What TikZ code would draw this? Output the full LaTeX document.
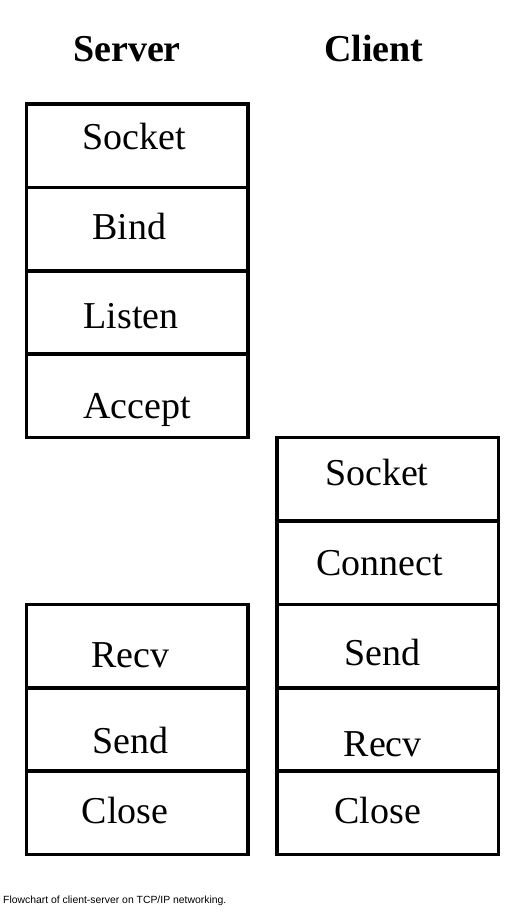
\documentclass[tikz,border=0pt]{standalone}
\usepackage{fontspec}
\setmainfont{Liberation Serif}
\newfontfamily\capfont{Liberation Sans}
\usetikzlibrary{positioning}

\tikzset{
  box/.style = {draw, line width=3.5pt, minimum width=221.5pt, minimum height=83.4pt,
                outer sep=0pt, inner sep=0pt},
  txt/.style = {font=\fontsize{38}{40}\selectfont, text height=25pt, text depth=0pt, inner sep=0pt},
  head/.style = {font=\fontsize{38}{40}\selectfont\bfseries, anchor=base, inner sep=0pt}
}

\begin{document}
\begin{tikzpicture}[x=1pt,y=-1pt]
\fill[white] (0,0) rectangle (530,914);
\useasboundingbox (0,0) rectangle (530,914);

% column heads
\node [head] (server) at (127,61.5) {Server};
\node [head] (client) at (374,61.5) {Client};

% server, first part
\node [box, label={[txt,xshift=-2.7pt,yshift=9.2pt]center:Socket}] (sSocket) at (137.25,145.7) {};
\node [box, below=0pt of sSocket, label={[txt,xshift=-8pt,yshift=2pt]center:Bind}] (sBind) {};
\node [box, below=0pt of sBind, label={[txt,xshift=-6pt,yshift=-3.5pt]center:Listen}] (sListen) {};
\node [box, below=0pt of sListen, label={[txt,yshift=-10pt]center:Accept}] (sAccept) {};

% client
\node [box, below right=0pt and 29pt of sAccept, label={[txt,xshift=-11pt,yshift=6pt]center:Socket}] (cSocket) {};
\node [box, below=0pt of cSocket, label={[txt,xshift=-8pt]center:Connect}] (cConnect) {};
\node [box, below=0pt of cConnect, label={[txt,xshift=-5pt,yshift=-7pt]center:Send}] (cSend) {};
\node [box, below=0pt of cSend, label={[txt,xshift=-5pt,yshift=-14.5pt]center:Recv}] (cRecv) {};
\node [box, below=0pt of cRecv, label={[txt,xshift=-10pt,yshift=2pt]center:Close}] (cClose) {};

% server, second part
\node [box, left=29pt of cSend, label={[txt,xshift=-7pt,yshift=-9pt]center:Recv}] (sRecv) {};
\node [box, below=0pt of sRecv, label={[txt,xshift=-7pt,yshift=-11.5pt]center:Send}] (sSend) {};
\node [box, below=0pt of sSend, label={[txt,xshift=-12pt,yshift=2pt]center:Close}] (sClose) {};

% caption
\node [anchor=base west, inner sep=0pt, font=\capfont\fontsize{10.4}{12}\selectfont] (caption) at (3,903)
  {Flowchart of client-server on TCP/IP networking.};
\end{tikzpicture}
\end{document}
